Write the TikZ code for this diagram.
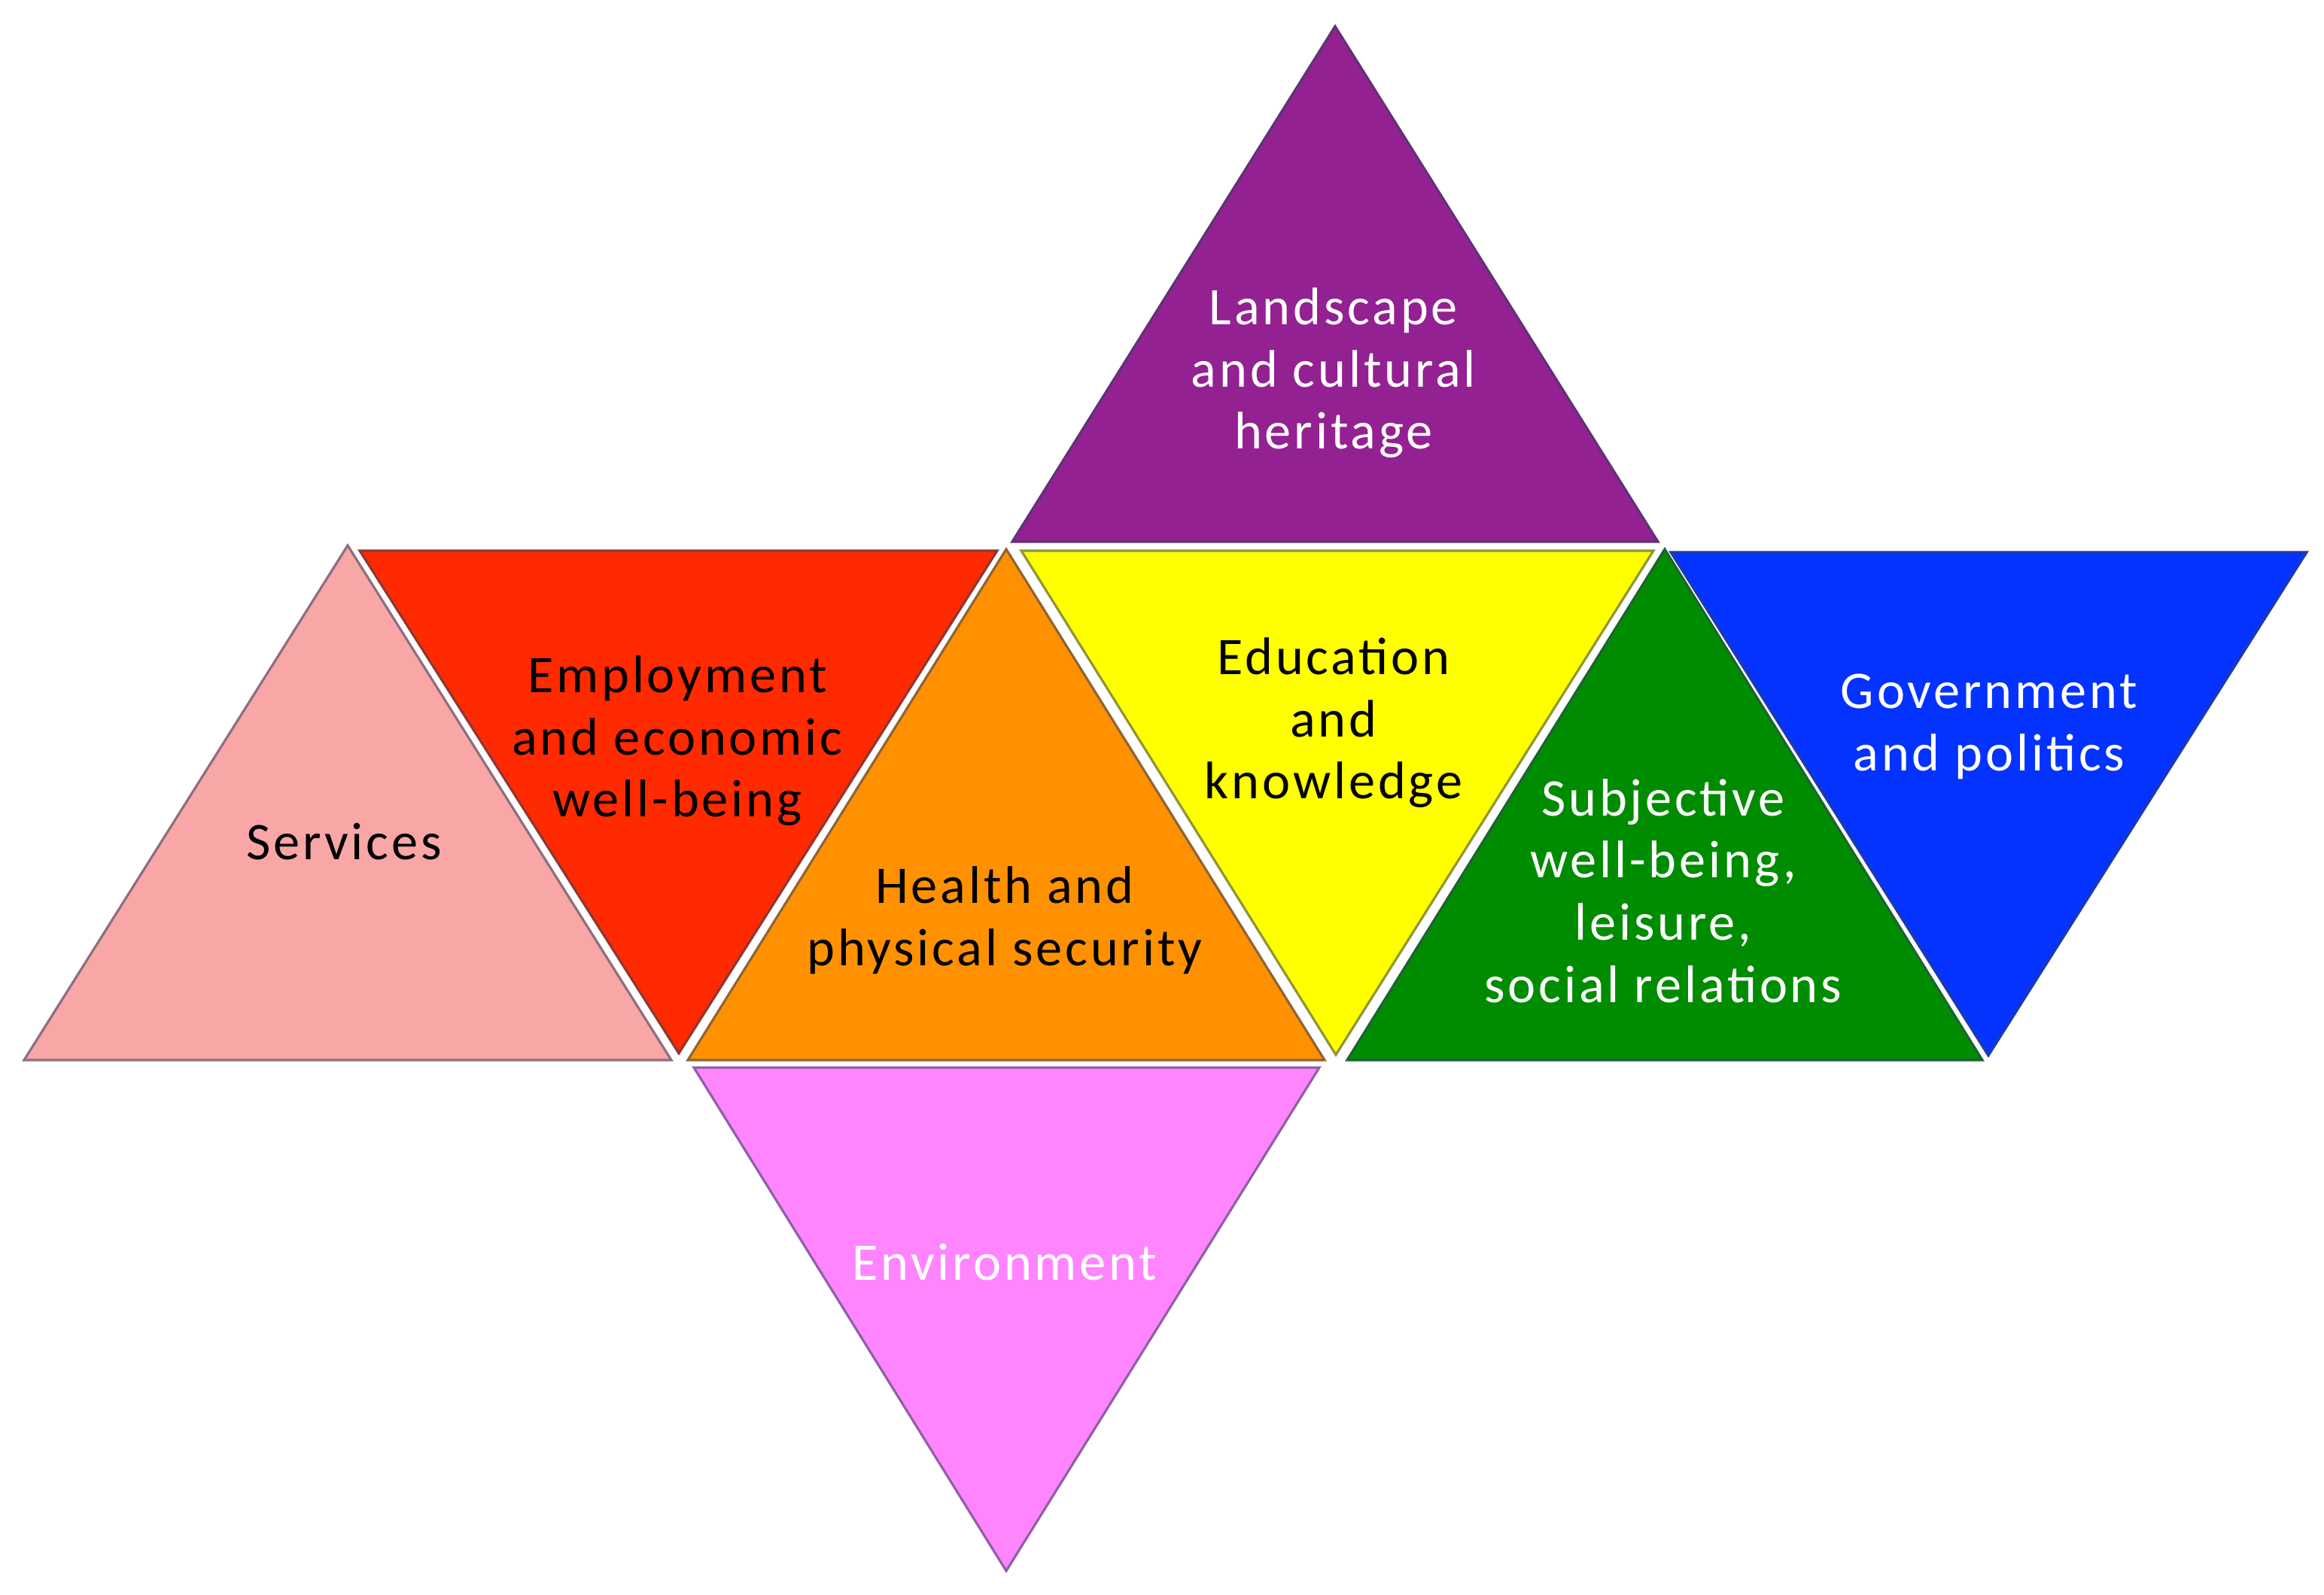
\documentclass[tikz,border=0pt]{standalone}
\usepackage{fontspec}
\setsansfont{Carlito}[LetterSpace=5.5]
\usetikzlibrary{positioning}
\definecolor{cpink}{HTML}{F9A6A6}
\definecolor{cred}{HTML}{FF2A00}
\definecolor{corange}{HTML}{FF9100}
\definecolor{cyellow}{HTML}{FFFF00}
\definecolor{cgreen}{HTML}{008C00}
\definecolor{cblue}{HTML}{0433FF}
\definecolor{cpurple}{HTML}{932192}
\definecolor{cviolet}{HTML}{FF85FF}
\definecolor{cedge}{HTML}{34405F}
\tikzset{
  every picture/.style={font=\sffamily},
  tri/.style={fill=#1, draw=#1!45!cedge, line width=0.9pt, line join=miter},
  lbl/.style={font=\sffamily\fontsize{20}{23.5}\selectfont, align=center, text=#1, inner sep=0pt},
  lbl/.default=black,
}

\begin{document}
\begin{tikzpicture}
  \useasboundingbox (0,0) rectangle (30.88,21.20);
  % row of six triangles
  \draw[tri=cpink]   (0.32,7.11)  -- (4.62,13.95)  -- (8.92,7.11)  -- cycle;
  \draw[tri=cred]    (4.78,13.88) -- (13.25,13.88) -- (9.02,7.20)  -- cycle;
  \draw[tri=corange] (9.14,7.11)  -- (13.37,13.90) -- (17.60,7.11) -- cycle;
  \draw[tri=cyellow] (13.57,13.88) -- (21.97,13.88) -- (17.75,7.18) -- cycle;
  \draw[tri=cgreen]  (17.90,7.11) -- (22.12,13.90) -- (26.34,7.11) -- cycle;
  \draw[tri=cblue]   (22.20,13.86) -- (30.65,13.86) -- (26.42,7.17) -- cycle;
  % top and bottom
  \draw[tri=cpurple] (13.45,14.00) -- (17.74,20.85) -- (22.03,14.00) -- cycle;
  \draw[tri=cviolet] (9.22,7.01)  -- (17.53,7.01)  -- (13.37,0.32) -- cycle;

  \node[lbl]       (serv) at (4.57,10.01)  {Services};
  \node[lbl]       (empl) at (9.00,11.35)  {Employment\\and economic\\well-being};
  \node[lbl]       (heal) at (13.35,8.97)  {Health and\\physical security};
  \node[lbl]       (educ) at (17.72,11.59) {Education\\and\\knowledge};
  \node[lbl=white] (subj) at (22.10,9.36)  {Subjective\\well-being,\\leisure,\\social relations};
  \node[lbl=white] (govt) at (26.43,11.54) {Government\\and politics};
  \node[lbl=white] (land) at (17.72,16.24) {Landscape\\and cultural\\heritage};
  \node[lbl=white] (envi) at (13.35,4.42)  {Environment};
\end{tikzpicture}
\end{document}
